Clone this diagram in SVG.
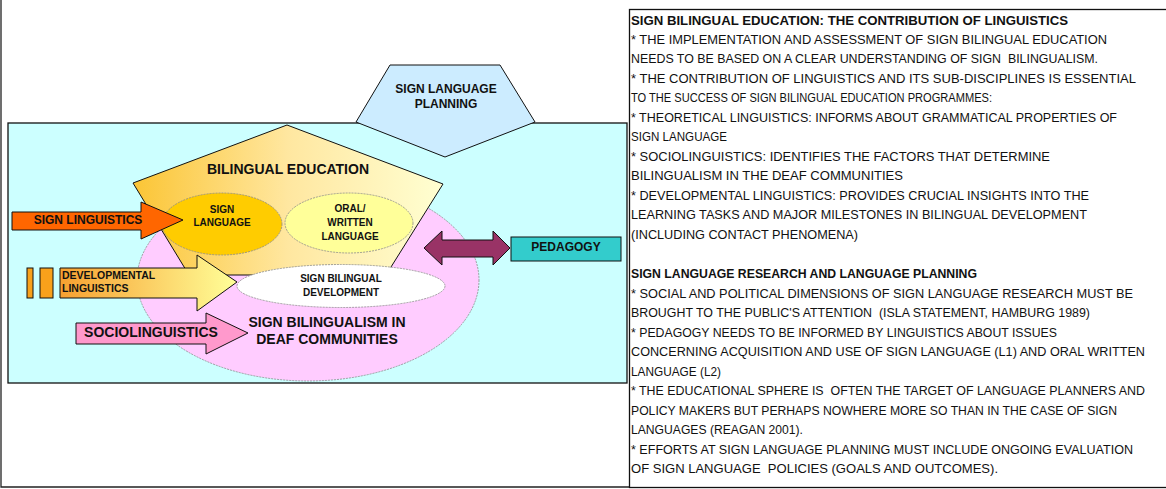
<svg xmlns="http://www.w3.org/2000/svg" width="1166" height="489" viewBox="0 0 1166 489">
<style>
.lbl{font-family:"Liberation Sans",Arial,sans-serif;font-weight:bold;fill:#111;text-anchor:middle}
.shape{stroke:#111;stroke-width:1}
.ell{stroke:#8a8a8a;stroke-width:0.8;stroke-dasharray:2,1}
.body text{font-family:"Liberation Sans",Arial,sans-serif;font-size:12px;fill:#111;white-space:pre}
.body .b{font-weight:bold}
</style>
<defs>
<linearGradient id="gBE" gradientUnits="userSpaceOnUse" x1="133" y1="0" x2="443" y2="0">
<stop offset="0" stop-color="#FBC535"/>
<stop offset="0.5" stop-color="#FFE7A0"/>
<stop offset="1" stop-color="#FFFFD2"/>
</linearGradient>
<linearGradient id="gDev" gradientUnits="userSpaceOnUse" x1="60" y1="0" x2="237" y2="0">
<stop offset="0" stop-color="#F7A030"/>
<stop offset="1" stop-color="#FFFF99"/>
</linearGradient>
</defs>
<rect width="1166" height="489" fill="#fff"/>
<g id="frame">
<path d="M1,0 V487 H629" fill="none" stroke="#222" stroke-width="1.3"/>
</g>
<g id="background">
<rect x="8" y="123" width="619" height="260" fill="#CCFFFF" stroke="#111" stroke-width="1.3"/>
</g>
<g id="sign-bilingualism">
<ellipse cx="308" cy="280" rx="171" ry="101" fill="#FFCCFF" class="ell"/>
</g>
<g id="bilingual-education">
<polygon points="287,125 443,184 386,275 189,275 133,183" fill="url(#gBE)" class="shape"/>
<text class="lbl" x="288" y="174" font-size="14">BILINGUAL EDUCATION</text>
</g>
<g id="sign-bilingual-development">
<ellipse cx="341" cy="286" rx="104" ry="21.5" fill="#fff" class="ell"/>
<text class="lbl" x="341" y="282" font-size="10">SIGN BILINGUAL</text>
<text class="lbl" x="341" y="296" font-size="10">DEVELOPMENT</text>
</g>
<g id="sign-bilingualism-label">
<text class="lbl" x="327" y="327" font-size="14">SIGN BILINGUALISM IN</text>
<text class="lbl" x="327" y="344" font-size="14">DEAF COMMUNITIES</text>
</g>
<g id="sign-language">
<ellipse cx="222" cy="224" rx="60" ry="31" fill="#FFCC00" class="ell"/>
<text class="lbl" x="222" y="213" font-size="10">SIGN</text>
<text class="lbl" x="222" y="226" font-size="10">LANGUAGE</text>
</g>
<g id="oral-written-language">
<ellipse cx="349" cy="223" rx="64" ry="30" fill="#FFFF99" class="ell"/>
<text class="lbl" x="350" y="212" font-size="10">ORAL/</text>
<text class="lbl" x="350" y="226" font-size="10">WRITTEN</text>
<text class="lbl" x="350" y="240" font-size="10">LANGUAGE</text>
</g>
<g id="sign-language-planning">
<polygon points="390,65 500,65 535,122 445,157 356,122" fill="#CCECFF" class="shape"/>
<text class="lbl" x="446" y="93" font-size="12">SIGN LANGUAGE</text>
<text class="lbl" x="446" y="108" font-size="12">PLANNING</text>
</g>
<g id="sign-linguistics">
<polygon points="12,212 141,212 141,202 183,220 141,239 141,230 12,230" fill="#FF6600" class="shape"/>
<text class="lbl" x="88" y="224" font-size="12">SIGN LINGUISTICS</text>
</g>
<g id="developmental-linguistics">
<rect x="27" y="268" width="6" height="30" fill="#F9A11B" class="shape"/>
<rect x="40" y="268" width="13" height="30" fill="#F9A11B" class="shape"/>
<polygon points="60,268 197,268 197,255 237,282 197,311 197,298 60,298" fill="url(#gDev)" class="shape"/>
<text class="lbl" x="62" y="279" font-size="10.5" style="text-anchor:start">DEVELOPMENTAL</text>
<text class="lbl" x="62" y="292" font-size="10.5" style="text-anchor:start">LINGUISTICS</text>
</g>
<g id="sociolinguistics">
<polygon points="76,323 206,323 206,313 248,333 206,354 206,344 76,344" fill="#FF99CC" class="shape"/>
<text class="lbl" x="151" y="337" font-size="14">SOCIOLINGUISTICS</text>
</g>
<g id="pedagogy">
<rect x="511" y="237" width="110" height="24" fill="#33CCCC" class="shape"/>
<text class="lbl" x="566" y="251" font-size="12">PEDAGOGY</text>
</g>
<g id="connectors">
<polygon points="424,248 442,231 442,240 493,240 493,231 510,248 493,265 493,257 442,257 442,265" fill="#993366" class="shape"/>
</g>
<g id="text-panel">
<rect x="629.5" y="9.5" width="540" height="478" fill="#fff" stroke="#111" stroke-width="1.3"/>
<g class="body">
<text xml:space="preserve" class="b" x="631" y="24.5" textLength="437" lengthAdjust="spacingAndGlyphs">SIGN BILINGUAL EDUCATION: THE CONTRIBUTION OF LINGUISTICS</text>
<text xml:space="preserve" x="631" y="43.5" textLength="476" lengthAdjust="spacingAndGlyphs">* THE IMPLEMENTATION AND ASSESSMENT OF SIGN BILINGUAL EDUCATION</text>
<text xml:space="preserve" x="631" y="63" textLength="467" lengthAdjust="spacingAndGlyphs">NEEDS TO BE BASED ON A CLEAR UNDERSTANDING OF SIGN  BILINGUALISM.</text>
<text xml:space="preserve" x="631" y="82.5" textLength="505" lengthAdjust="spacingAndGlyphs">* THE CONTRIBUTION OF LINGUISTICS AND ITS SUB-DISCIPLINES IS ESSENTIAL</text>
<text xml:space="preserve" x="631" y="102" textLength="361" lengthAdjust="spacingAndGlyphs">TO THE SUCCESS OF SIGN BILINGUAL EDUCATION PROGRAMMES:</text>
<text xml:space="preserve" x="631" y="121.5" textLength="486" lengthAdjust="spacingAndGlyphs">* THEORETICAL LINGUISTICS: INFORMS ABOUT GRAMMATICAL PROPERTIES OF</text>
<text xml:space="preserve" x="631" y="141" textLength="96" lengthAdjust="spacingAndGlyphs">SIGN LANGUAGE</text>
<text xml:space="preserve" x="631" y="160.5" textLength="419" lengthAdjust="spacingAndGlyphs">* SOCIOLINGUISTICS: IDENTIFIES THE FACTORS THAT DETERMINE</text>
<text xml:space="preserve" x="631" y="180" textLength="272" lengthAdjust="spacingAndGlyphs">BILINGUALISM IN THE DEAF COMMUNITIES</text>
<text xml:space="preserve" x="631" y="199.5" textLength="458" lengthAdjust="spacingAndGlyphs">* DEVELOPMENTAL LINGUISTICS: PROVIDES CRUCIAL INSIGHTS INTO THE</text>
<text xml:space="preserve" x="631" y="219" textLength="456" lengthAdjust="spacingAndGlyphs">LEARNING TASKS AND MAJOR MILESTONES IN BILINGUAL DEVELOPMENT</text>
<text xml:space="preserve" x="631" y="238.5" textLength="227" lengthAdjust="spacingAndGlyphs">(INCLUDING CONTACT PHENOMENA)</text>
<text xml:space="preserve" class="b" x="631" y="278" textLength="346" lengthAdjust="spacingAndGlyphs">SIGN LANGUAGE RESEARCH AND LANGUAGE PLANNING</text>
<text xml:space="preserve" x="631" y="297.5" textLength="502" lengthAdjust="spacingAndGlyphs">* SOCIAL AND POLITICAL DIMENSIONS OF SIGN LANGUAGE RESEARCH MUST BE</text>
<text xml:space="preserve" x="631" y="317" textLength="459" lengthAdjust="spacingAndGlyphs">BROUGHT TO THE PUBLIC'S ATTENTION  (ISLA STATEMENT, HAMBURG 1989)</text>
<text xml:space="preserve" x="631" y="336.5" textLength="426" lengthAdjust="spacingAndGlyphs">* PEDAGOGY NEEDS TO BE INFORMED BY LINGUISTICS ABOUT ISSUES</text>
<text xml:space="preserve" x="631" y="356" textLength="514" lengthAdjust="spacingAndGlyphs">CONCERNING ACQUISITION AND USE OF SIGN LANGUAGE (L1) AND ORAL WRITTEN</text>
<text xml:space="preserve" x="631" y="375.5" textLength="90" lengthAdjust="spacingAndGlyphs">LANGUAGE (L2)</text>
<text xml:space="preserve" x="631" y="395" textLength="514" lengthAdjust="spacingAndGlyphs">* THE EDUCATIONAL SPHERE IS  OFTEN THE TARGET OF LANGUAGE PLANNERS AND</text>
<text xml:space="preserve" x="631" y="414.5" textLength="486" lengthAdjust="spacingAndGlyphs">POLICY MAKERS BUT PERHAPS NOWHERE MORE SO THAN IN THE CASE OF SIGN</text>
<text xml:space="preserve" x="631" y="434" textLength="172" lengthAdjust="spacingAndGlyphs">LANGUAGES (REAGAN 2001).</text>
<text xml:space="preserve" x="631" y="453.5" textLength="502" lengthAdjust="spacingAndGlyphs">* EFFORTS AT SIGN LANGUAGE PLANNING MUST INCLUDE ONGOING EVALUATION</text>
<text xml:space="preserve" x="631" y="473" textLength="367" lengthAdjust="spacingAndGlyphs">OF SIGN LANGUAGE  POLICIES (GOALS AND OUTCOMES).</text>
</g>
</g>
</svg>
